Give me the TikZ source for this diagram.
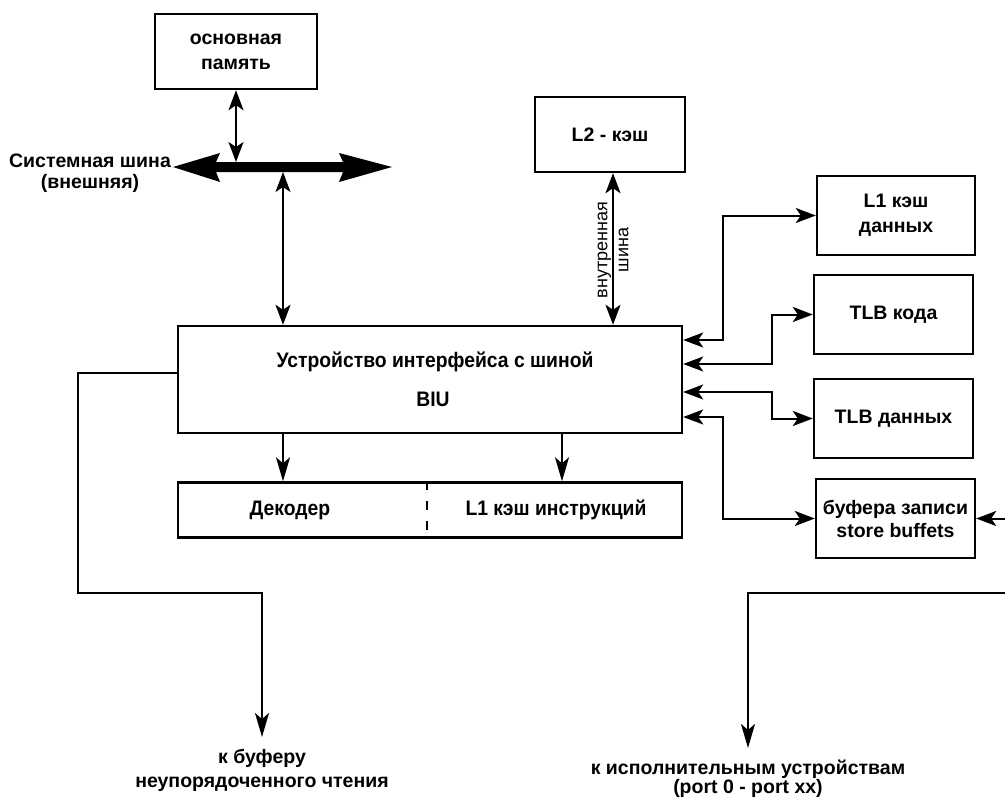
\documentclass[tikz,border=0pt]{standalone}
\usepackage{fontspec}
\setmainfont{Liberation Sans}
\usetikzlibrary{arrows.meta,calc}
\begin{document}
\begin{tikzpicture}[x=1pt,y=-1pt,
  ah/.tip={Stealth[length=20pt,width=15pt,inset=5pt]},
  al/.tip={Stealth[length=24pt,width=14pt,inset=6pt]},
  box/.style={draw,line width=2.4pt,inner sep=0pt,align=center,
    font=\bfseries\fontsize{19.5}{25}\selectfont},
  conn/.style={line width=2pt},
  dbl/.style={conn,{ah}-{ah}},
  one/.style={conn,-{ah}},
  onel/.style={conn,-{al}},
  cond/.style={font=\bfseries\fontsize{21}{21}\selectfont,inner sep=0pt},
  lbl/.style={align=center,inner sep=0pt,font=\bfseries\fontsize{19.5}{21}\selectfont},
  vlbl/.style={align=center,font=\fontsize{18}{21}\selectfont,rotate=90,inner sep=0pt}
]
\useasboundingbox (0,0) rectangle (1005,800);
\fill[white] (0,0) rectangle (1005,800);

% boxes
\node[box,minimum width=162pt,minimum height=75pt] (mem) at (236,51.5) {основная\\память};
\node[box,minimum width=150pt,minimum height=75pt] (l2) at (610,134.5) {\raisebox{-6pt}{L2 - кэш}};
\node[draw,line width=2.4pt,minimum width=504pt,minimum height=107pt,inner sep=0pt] (biu) at (430,379.5) {};
\node[cond] (biut) at (435,362) {\scalebox{0.92}[1]{Устройство интерфейса с шиной}};
\node[cond] (biun) at (433,399) {\scalebox{0.92}[1]{BIU}};
\node[draw,line width=2.4pt,minimum width=504pt,minimum height=55pt,inner sep=0pt] (dec) at (430,510) {};
\node[cond] (dect) at (290,510) {\scalebox{0.92}[1]{Декодер}};
\node[cond] (l1i) at (556,510) {\scalebox{0.92}[1]{L1 кэш инструкций}};
\draw[line width=2pt,dash pattern=on 9pt off 11pt] (dec.north -| 427,0) -- (dec.south -| 427,0);

\node[box,minimum width=158pt,minimum height=79pt] (l1d) at (896,215.5) {L1 кэш\\данных};
\node[box,minimum width=159pt,minimum height=79pt] (tlbc) at (893.5,314.5) {TLB кода};
\node[box,minimum width=159pt,minimum height=79pt] (tlbd) at (893.5,418.5) {TLB данных};
\node[box,minimum width=159pt,minimum height=79pt,font=\bfseries\fontsize{19.5}{23}\selectfont] (sb) at (895.5,518.5) {буфера записи\\store buffets};

% system bus
\fill (173,167) -- (220,153) -- (216,162) -- (343,162) -- (339,153) -- (392,167)
  -- (339,182) -- (343,172) -- (216,172) -- (220,182) -- cycle;
\coordinate (bustop) at (236,162);
\coordinate (busbot) at (283,172);
\node[lbl] (buslbl) at (90,173) {Системная шина\\(внешняя)};

\draw[dbl] (mem.south) -- (bustop);
\draw[dbl] (busbot) -- (busbot |- biu.north);

% internal bus
\draw[dbl] ([xshift=3pt]l2.south) -- ([xshift=3pt]l2.south |- biu.north);
\node[vlbl] (ibus) at (613,250) {внутренная\\шина};

% right connectors
\draw[dbl] (biu.east |- 0,340) -- (723,340) |- (l1d.west);
\draw[dbl] (biu.east |- 0,364) -- (772,364) |- (tlbc.west);
\draw[dbl] (biu.east |- 0,392) -- (772,392) |- (tlbd.west);
\draw[dbl] (biu.east |- 0,417) -- (723,417) |- (sb.west);
\coordinate (sbin) at (1005,518.5);
\draw[one] (sbin) -- (sb.east);

% biu -> decoder
\draw[onel] (biu.south -| 283,0) -- (dec.north -| 283,0);
\draw[onel] (biu.south -| 562,0) -- (dec.north -| 562,0);

% bottom
\node[lbl,anchor=north] (rob) at (262,749)
  {к буферу\\[3pt]неупорядоченного чтения};
\node[lbl,anchor=north] (exu) at (748,760)
  {к исполнительным устройствам\\[-2pt](port 0 - port xx)};
\draw[onel] (biu.west |- 0,373) -- (78,373) -- (78,593) -| ([yshift=12pt]rob.north);
\coordinate (exin) at (1005,593);
\draw[onel] (exin) -- (748,593) -- ([yshift=12pt]exu.north);
\end{tikzpicture}
\end{document}
